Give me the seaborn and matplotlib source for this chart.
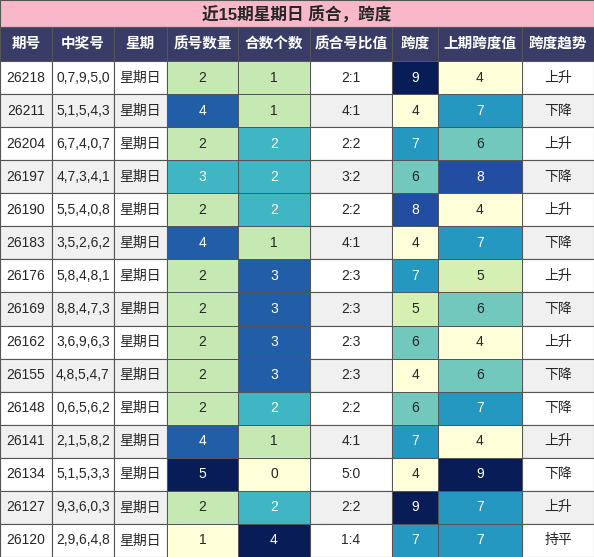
import matplotlib
matplotlib.use("Agg")
import matplotlib.pyplot as plt
from matplotlib.patches import Rectangle
import pandas as pd
import seaborn as sns

sns.set_theme(style="white")
plt.rcParams["font.family"] = ["Liberation Sans", "Noto Sans CJK SC", "DejaVu Sans"]

title = "近15期星期日 质合，跨度"
headers = ["期号", "中奖号", "星期", "质号数量", "合数个数", "质合号比值", "跨度", "上期跨度值", "跨度趋势"]
issues = ["26218", "26211", "26204", "26197", "26190", "26183", "26176", "26169",
          "26162", "26155", "26148", "26141", "26134", "26127", "26120"]
numbers = ["0,7,9,5,0", "5,1,5,4,3", "6,7,4,0,7", "4,7,3,4,1", "5,5,4,0,8", "3,5,2,6,2",
           "5,8,4,8,1", "8,8,4,7,3", "3,6,9,6,3", "4,8,5,4,7", "0,6,5,6,2", "2,1,5,8,2",
           "5,1,5,3,3", "9,3,6,0,3", "2,9,6,4,8"]
weekday = ["星期日"] * 15
prime_count = [2, 4, 2, 3, 2, 4, 2, 2, 2, 2, 2, 4, 5, 2, 1]
composite_count = [1, 1, 2, 2, 2, 1, 3, 3, 3, 3, 2, 1, 0, 2, 4]
ratio = ["2:1", "4:1", "2:2", "3:2", "2:2", "4:1", "2:3", "2:3", "2:3", "2:3", "2:2",
         "4:1", "5:0", "2:2", "1:4"]
span = [9, 4, 7, 6, 8, 4, 7, 5, 6, 4, 6, 7, 4, 9, 7]
prev_span = [4, 7, 6, 8, 4, 7, 5, 6, 4, 6, 7, 4, 9, 7, 7]
trend = ["上升", "下降", "上升", "下降", "上升", "下降", "上升", "下降", "上升", "下降",
         "下降", "上升", "下降", "上升", "持平"]

W, H = 594, 557
col_x = [0, 52, 114, 167, 238, 310, 392, 438, 522, 594]
title_h, head_h = 27, 61
row_h = (H - head_h) / 15
line = "#555555"

fig = plt.figure(figsize=(W / 100, H / 100), dpi=100)
bg = fig.add_axes([0, 0, 1, 1])
bg.set_xlim(0, W)
bg.set_ylim(H, 0)
bg.axis("off")

bg.add_patch(Rectangle((0, 0), W, title_h, facecolor="#f8b8ca", edgecolor=line, lw=0.8))
bg.text(W / 2, title_h / 2, title, ha="center", va="center", fontsize=12, fontweight="bold")
for i, h in enumerate(headers):
    x0, x1 = col_x[i], col_x[i + 1]
    bg.add_patch(Rectangle((x0, title_h), x1 - x0, head_h - title_h, facecolor="#383c66",
                           edgecolor=line, lw=0.8))
    bg.text((x0 + x1) / 2, (title_h + head_h) / 2, h, ha="center", va="center",
            color="white", fontsize=10.5, fontweight="bold")

text_cols = {0: issues, 1: numbers, 2: weekday, 5: ratio, 8: trend}
for c, vals in text_cols.items():
    x0, x1 = col_x[c], col_x[c + 1]
    for r, v in enumerate(vals):
        y0 = head_h + r * row_h
        bg.add_patch(Rectangle((x0, y0), x1 - x0, row_h,
                               facecolor="white" if r % 2 == 0 else "#f0f0f0",
                               edgecolor=line, lw=0.8))
        bg.text((x0 + x1) / 2, y0 + row_h / 2, v, ha="center", va="center", fontsize=10)

heat_cols = {3: prime_count, 4: composite_count, 6: span, 7: prev_span}
for c, vals in heat_cols.items():
    x0, x1 = col_x[c], col_x[c + 1]
    ax = fig.add_axes([x0 / W, 0, (x1 - x0) / W, (H - head_h) / H])
    data = pd.DataFrame({"v": vals})
    sns.heatmap(data, ax=ax, cmap="YlGnBu", vmin=min(vals), vmax=max(vals), annot=True,
                fmt="d", cbar=False, linewidths=0.6, linecolor=line,
                annot_kws={"fontsize": 10, "fontweight": "normal"})
    ax.set_xticks([])
    ax.set_yticks([])
    ax.set_xlabel("")
    ax.set_ylabel("")

fig.savefig("out.png", dpi=100)
